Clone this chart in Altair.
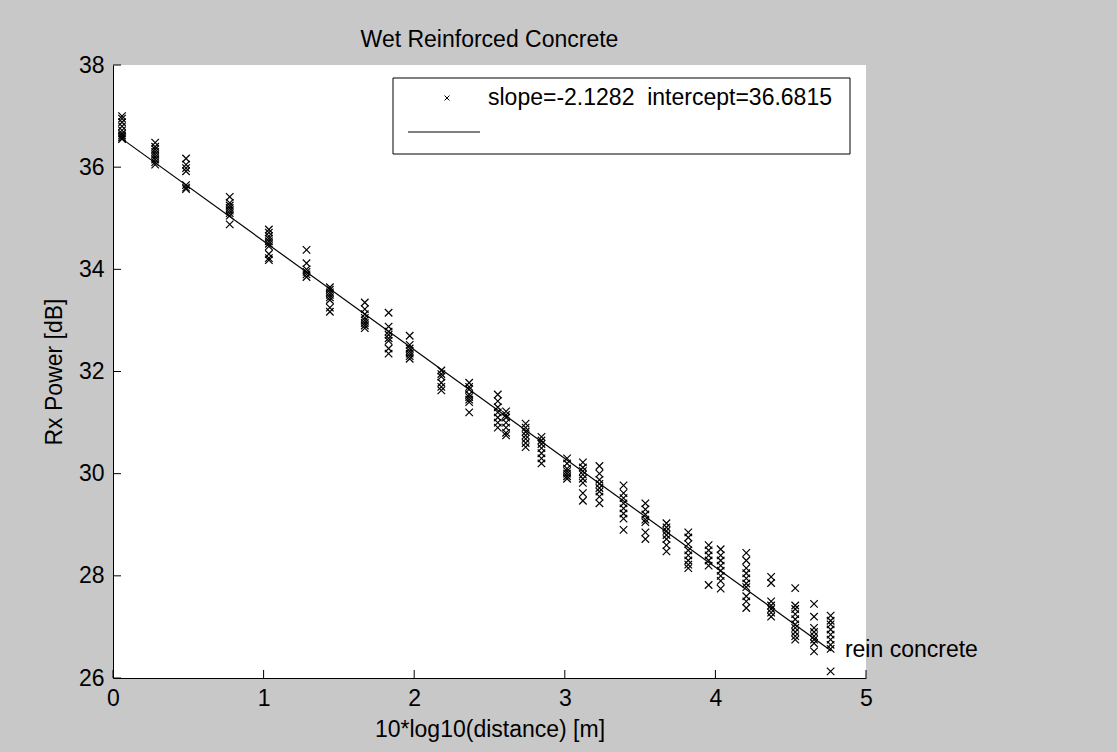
import altair as alt
import pandas as pd

# ---- data ----
col_x = [0.06, 0.28, 0.485, 0.775, 1.035, 1.285, 1.44, 1.672, 1.83, 1.97,
         2.18, 2.365, 2.555, 2.61, 2.74, 2.845, 3.015, 3.12, 3.23, 3.39,
         3.535, 3.675, 3.82, 3.955, 4.035, 4.205, 4.37, 4.53, 4.655, 4.765]

col_y = [
    [37.0, 36.95, 36.88, 36.8, 36.72, 36.66, 36.62, 36.58, 36.55],
    [36.48, 36.4, 36.35, 36.3, 36.25, 36.2, 36.15, 36.1, 36.05],
    [36.17, 36.05, 35.98, 35.92, 35.65, 35.6, 35.57],
    [35.42, 35.3, 35.25, 35.2, 35.15, 35.1, 35.05, 34.88],
    [34.78, 34.72, 34.65, 34.6, 34.55, 34.5, 34.45, 34.3, 34.22, 34.18],
    [34.38, 34.12, 34.0, 33.95, 33.9, 33.85],
    [33.65, 33.6, 33.55, 33.5, 33.45, 33.4, 33.25, 33.17],
    [33.35, 33.22, 33.12, 33.05, 33.0, 32.95, 32.9, 32.85],
    [33.15, 32.88, 32.78, 32.72, 32.65, 32.6, 32.45, 32.35],
    [32.7, 32.52, 32.45, 32.4, 32.35, 32.3, 32.25],
    [32.02, 31.95, 31.9, 31.78, 31.7, 31.63],
    [31.78, 31.7, 31.65, 31.55, 31.5, 31.45, 31.4, 31.2],
    [31.55, 31.42, 31.3, 31.2, 31.1, 31.0, 30.9],
    [31.22, 31.15, 31.1, 31.0, 30.9, 30.8, 30.75],
    [30.98, 30.9, 30.82, 30.75, 30.68, 30.6, 30.52],
    [30.72, 30.65, 30.58, 30.5, 30.4, 30.3, 30.2],
    [30.3, 30.2, 30.1, 30.05, 30.0, 29.95, 29.9],
    [30.22, 30.12, 30.05, 29.98, 29.9, 29.82, 29.62, 29.47],
    [30.15, 30.0, 29.88, 29.8, 29.72, 29.65, 29.55, 29.42],
    [29.77, 29.62, 29.52, 29.42, 29.32, 29.22, 29.12, 28.9],
    [29.42, 29.3, 29.2, 29.1, 29.05, 28.85, 28.72],
    [29.03, 28.95, 28.88, 28.8, 28.72, 28.6, 28.48],
    [28.85, 28.75, 28.62, 28.5, 28.4, 28.3, 28.22, 28.15],
    [28.6, 28.5, 28.4, 28.3, 28.2, 27.82],
    [28.52, 28.4, 28.3, 28.2, 28.1, 28.0, 27.9, 27.75],
    [28.45, 28.3, 28.15, 28.05, 27.95, 27.85, 27.78, 27.6, 27.5, 27.37],
    [27.98, 27.86, 27.5, 27.42, 27.35, 27.28, 27.2],
    [27.76, 27.42, 27.35, 27.25, 27.15, 27.05, 26.98, 26.9, 26.82, 26.75],
    [27.45, 27.2, 26.98, 26.9, 26.82, 26.75, 26.68, 26.52],
    [27.22, 27.12, 27.05, 26.95, 26.85, 26.75, 26.65, 26.57, 26.13],
]

slope = -2.1282
intercept = 36.6815
fit_x = [0.06, 4.77]

x_ticks = [0, 1, 2, 3, 4, 5]
y_ticks = [26, 28, 30, 32, 34, 36, 38]

legend_text = ["slope=-2.1282\u00a0\u00a0intercept=36.6815"]
annot_x = [4.86]
annot_y = [26.55]
annot_text = ["rein concrete"]

# ---- build tables ----
pts = pd.DataFrame([{"d": x, "p": y} for x, ys in zip(col_x, col_y) for y in ys])
fit = pd.DataFrame({"d": fit_x})
xt = pd.DataFrame({"v": x_ticks})
yt = pd.DataFrame({"v": y_ticks})
ann = pd.DataFrame({"d": annot_x, "p": annot_y, "t": annot_text})
leg = pd.DataFrame({"t": legend_text})

FONT = "Liberation Sans"
FS = 23
W, H = 753, 613
XMARK = "M-1,-1L1,1M-1,1L1,-1"

xs = alt.Scale(domain=[0, 5], nice=False, zero=False)
ys_ = alt.Scale(domain=[26, 38], nice=False, zero=False)

x_enc = alt.X("d:Q", scale=xs, title="10*log10(distance) [m]",
              axis=alt.Axis(values=x_ticks, format="d", tickSize=0, labelPadding=9,
                            grid=False, domainColor="black", labelColor="black",
                            titleColor="black", labelFont=FONT, labelFontSize=FS,
                            titleFont=FONT, titleFontSize=FS, titleFontWeight="normal",
                            titlePadding=8, labelFlush=False))
y_enc = alt.Y("p:Q", scale=ys_, title="Rx Power [dB]",
              axis=alt.Axis(values=y_ticks, format="d", tickSize=0, labelPadding=9,
                            grid=False, domainColor="black", labelColor="black",
                            titleColor="black", labelFont=FONT, labelFontSize=FS,
                            titleFont=FONT, titleFontSize=FS, titleFontWeight="normal",
                            titlePadding=12, labelFlush=False))

points = alt.Chart(pts).mark_point(
    shape=XMARK, filled=False, stroke="black", strokeWidth=1.2, size=56, opacity=1
).encode(x=x_enc, y=y_enc)

line = alt.Chart(fit).transform_calculate(
    p=f"{intercept} + ({slope}) * datum.d"
).mark_line(color="black", strokeWidth=1.2).encode(
    x=alt.X("d:Q", scale=xs), y=alt.Y("p:Q", scale=ys_)
)

xtick_rules = alt.Chart(xt).mark_rule(color="black", strokeWidth=1).encode(
    x=alt.X("v:Q", scale=xs), y=alt.value(H), y2=alt.value(H - 8)
)
ytick_rules = alt.Chart(yt).mark_rule(color="black", strokeWidth=1).encode(
    y=alt.Y("v:Q", scale=ys_), x=alt.value(0), x2=alt.value(8)
)

annot = alt.Chart(ann).mark_text(
    align="left", baseline="middle", font=FONT, fontSize=FS, color="black"
).encode(x=alt.X("d:Q", scale=xs), y=alt.Y("p:Q", scale=ys_), text="t:N")

# ---- legend box (decoration) ----
leg_box = alt.Chart(leg).mark_rect(
    fill="white", stroke="black", strokeWidth=1
).encode(x=alt.value(280), x2=alt.value(737), y=alt.value(13), y2=alt.value(89))
leg_mark = alt.Chart(leg).mark_point(
    shape=XMARK, filled=False, stroke="black", strokeWidth=1, size=25, opacity=1
).encode(x=alt.value(334), y=alt.value(33))
leg_label = alt.Chart(leg).mark_text(
    align="left", baseline="middle", font=FONT, fontSize=FS, color="black"
).encode(x=alt.value(375), y=alt.value(33), text="t:N")
leg_line = alt.Chart(leg).mark_rule(color="black", strokeWidth=1).encode(
    x=alt.value(295), x2=alt.value(367), y=alt.value(67)
)

chart = alt.layer(
    points, line, xtick_rules, ytick_rules, annot,
    leg_box, leg_mark, leg_label, leg_line
).properties(
    width=W, height=H,
    title=alt.TitleParams("Wet Reinforced Concrete", font=FONT, fontSize=FS,
                          fontWeight="normal", color="black", anchor="middle",
                          offset=2),
    autosize=alt.AutoSizeParams(type="none"),
    padding={"left": 113, "top": 65, "right": 251, "bottom": 74},
    background="#c8c8c8",
).configure_view(fill="white", stroke=None)

chart.save("out.html", embed_options={"renderer": "svg", "actions": False})
